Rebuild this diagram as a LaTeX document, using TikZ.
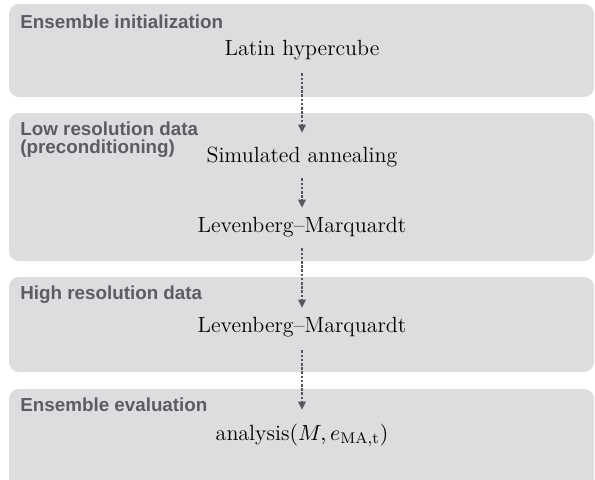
\documentclass[tikz,border=0pt]{standalone}
\usepackage{fontspec}
\newfontfamily\labelfont{Liberation Sans}
\usetikzlibrary{arrows.meta}
\definecolor{boxfill}{HTML}{DCDDDF}
\definecolor{labelgray}{HTML}{5B5D61}
\definecolor{arrowgray}{HTML}{55575B}
\tikzset{
  stage/.style={fill=boxfill, draw=none, rounded corners=5pt},
  stagelabel/.style={anchor=base west, inner sep=0pt, text=labelgray,
    font=\labelfont\bfseries\fontsize{9.4}{9}\selectfont, align=left},
  stepnode/.style={anchor=base, inner sep=0pt, text height=8pt, text depth=2.5pt,
    font=\fontsize{11}{13}\selectfont},
  flow/.style={draw=arrowgray, line width=0.6pt, dash pattern=on 1.3pt off 0.8pt,
    -{Triangle[length=4pt,width=3.8pt,fill=arrowgray]}}
}
\begin{document}
\begin{tikzpicture}[x=0.5pt,y=-0.5pt]
\useasboundingbox (0,0) rectangle (595,479);
% stage boxes
\path[stage] (9,4) rectangle (594,97);
\path[stage] (9,113) rectangle (594,261);
\path[stage] (9,277) rectangle (594,372);
\path[stage] (9,389) rectangle (594,490);
% labels
\node[stagelabel] (l1) at (20,28) {Ensemble initialization};
\node[stagelabel] (l2) at (20,153) {Low resolution data\\(preconditioning)};
\node[stagelabel] (l3) at (20,299) {High resolution data};
\node[stagelabel] (l4) at (20,411) {Ensemble evaluation};
% steps
\node[stepnode] (lh) at (302,55) {Latin hypercube};
\node[stepnode] (sa) at (302,162) {Simulated annealing};
\node[stepnode] (lm1) at (302,232) {Levenberg--Marquardt};
\node[stepnode] (lm2) at (302,332) {Levenberg--Marquardt};
\node[stepnode] (an) at (302,440) {analysis$(M,e_{\mathrm{MA,t}})$};
% connectors
\draw[flow, shorten <=6.5pt, shorten >=6.5pt] (lh.south) -- (sa.north);
\draw[flow, shorten <=5.5pt, shorten >=4pt] (sa.south) -- (lm1.north);
\draw[flow, shorten <=5.5pt, shorten >=4pt] (lm1.south) -- (lm2.north);
\draw[flow, shorten <=6.5pt, shorten >=7pt] (lm2.south) -- (an.north);
\end{tikzpicture}
\end{document}
